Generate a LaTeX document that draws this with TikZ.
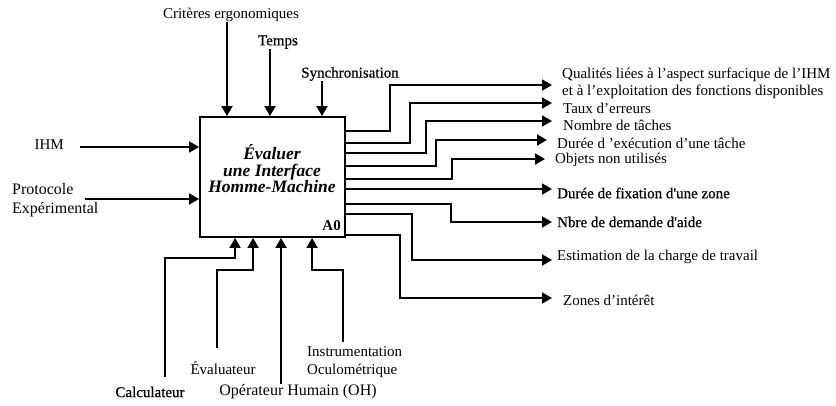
\documentclass[tikz,border=0pt]{standalone}
\usepackage{fontspec}
\setmainfont{Liberation Serif}
\newfontfamily\heavyfont{Liberation Serif}[FakeBold=0.6]
\usetikzlibrary{arrows.meta}
\begin{document}
\begin{tikzpicture}[x=1pt,y=-1pt,
  arr/.style={line width=1.9pt,-{Triangle[length=10pt,width=11pt]}},
  lbl/.style={font=\fontsize{15}{18}\selectfont, inner sep=0pt},
  rlbl/.style={font=\fontsize{15}{17}\selectfont, inner sep=0pt, anchor=west, align=left},
  heavy/.style={font=\fontsize{15}{17}\selectfont\heavyfont},
  ]
\useasboundingbox[fill=white] (0,0) rectangle (836,405);
% main activity box
\node[draw, line width=1.9pt, minimum width=145pt, minimum height=120pt, inner sep=0pt] (box) at (272.5,177) {};
\node[font=\fontsize{17.5}{16.5}\selectfont\bfseries\itshape, align=center, inner sep=0pt] (title) at (272,169) {Évaluer\\une Interface\\Homme-Machine};
\node[font=\fontsize{15}{15}\selectfont\bfseries, inner sep=0pt, anchor=east] (a0) at (341,226) {A0};
% controls (top)
\node[lbl] (crit) at (231,15) {Critères ergonomiques};
\coordinate (cc) at (227,22);
\draw[arr] (cc) -- (cc |- box.north);
\node[lbl, heavy] (temps) at (278,42) {Temps};
\coordinate (ct) at (270,49);
\draw[arr] (ct) -- (ct |- box.north);
\node[lbl, heavy] (sync) at (350,74) {Synchronisation};
\coordinate (cs) at (322,81);
\draw[arr] (cs) -- (cs |- box.north);
% inputs (left)
\node[lbl, anchor=east] (ihm) at (64,145) {IHM};
\coordinate (ci) at (80,147);
\draw[arr] (ci) -- (ci -| box.west);
\node[lbl, anchor=west, align=left, font=\fontsize{16}{19}\selectfont] (proto) at (12,200) {Protocole\\Expérimental};
\coordinate (cp) at (85,199);
\draw[arr] (cp) -- (cp -| box.west);
% outputs (right)
\coordinate (o1) at (552,85);
\coordinate (o2) at (552,103);
\coordinate (o3) at (552,121);
\coordinate (o4) at (547,140);
\coordinate (o5) at (545,159);
\coordinate (o6) at (552,189);
\coordinate (o7) at (552,222);
\coordinate (o8) at (552,260);
\coordinate (o9) at (552,298);
\draw[arr] ([yshift=46pt]box.east) -| ([xshift=-162pt]o1) -- (o1);
\draw[arr] ([yshift=34pt]box.east) -| ([xshift=-142pt]o2) -- (o2);
\draw[arr] ([yshift=24pt]box.east) -| ([xshift=-126pt]o3) -- (o3);
\draw[arr] ([yshift=11pt]box.east) -| ([xshift=-111pt]o4) -- (o4);
\draw[arr] ([yshift=-2pt]box.east) -| ([xshift=-93pt]o5) -- (o5);
\draw[arr] (o6 -| box.east) -- (o6);
\draw[arr] ([yshift=-27pt]box.east) -| ([xshift=-101pt]o7) -- (o7);
\draw[arr] ([yshift=-37pt]box.east) -| ([xshift=-140pt]o8) -- (o8);
\draw[arr] ([yshift=-58pt]box.east) -| ([xshift=-152pt]o9) -- (o9);
\node[rlbl] (l1) at (562,83.5) {Qualités liées à l’aspect surfacique de l’IHM\\et à l’exploitation des fonctions disponibles};
\node[rlbl] (l2) at (563,108) {Taux d'erreurs};
\node[rlbl] (l3) at (563,125) {Nombre de tâches};
\node[rlbl] (l4) at (557,143) {Durée d ’exécution d’une tâche};
\node[rlbl] (l5) at (555,160) {Objets non utilisés};
\node[rlbl, heavy] (l6) at (557,193) {Durée de fixation d'une zone};
\node[rlbl, heavy] (l7) at (557,222) {Nbre de demande d'aide};
\node[rlbl] (l8) at (557,257) {Estimation de la charge de travail};
\node[rlbl] (l9) at (563,300) {Zones d'intérêt};
% mechanisms (bottom)
\coordinate (mc) at (165,377);
\draw[arr] (mc) |- ([xshift=36pt,yshift=-20pt]box.south west) -- ([xshift=36pt]box.south west);
\coordinate (me) at (217,348);
\draw[arr] (me) |- ([xshift=54pt,yshift=-32pt]box.south west) -- ([xshift=54pt]box.south west);
\coordinate (mo) at (281,384);
\draw[arr] (mo) -- (mo |- box.south);
\coordinate (mi) at (343,342);
\draw[arr] (mi) |- ([xshift=113pt,yshift=-32pt]box.south west) -- ([xshift=113pt]box.south west);
\node[lbl, heavy] (calc) at (150,392) {Calculateur};
\node[lbl] (eval) at (223,368) {Évaluateur};
\node[lbl, font=\fontsize{16}{18}\selectfont] (oper) at (298,392) {Opérateur Humain (OH)};
\node[lbl, anchor=west, align=left] (instr) at (307,362) {Instrumentation\\Oculométrique};
\end{tikzpicture}
\end{document}
